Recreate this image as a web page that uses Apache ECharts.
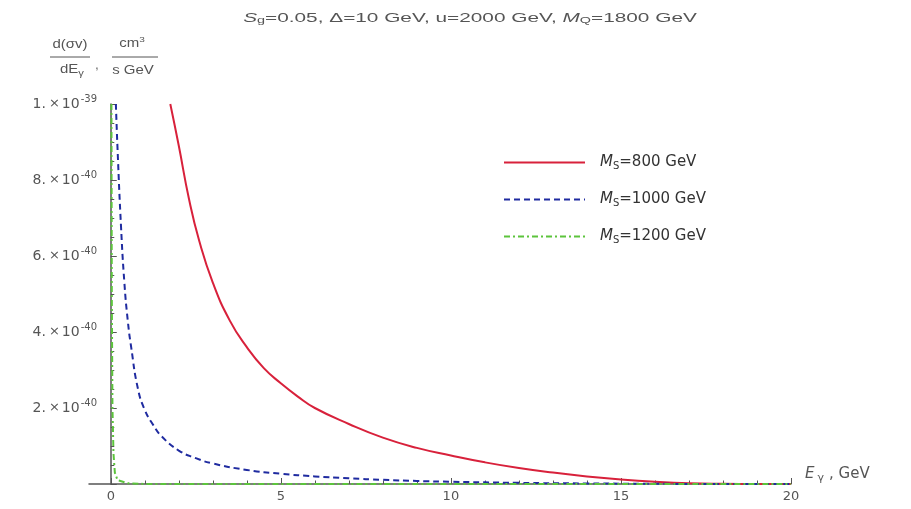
<!DOCTYPE html>
<html>
<head>
<meta charset="utf-8">
<script src="https://cdn.jsdelivr.net/npm/echarts@6/dist/echarts.min.js"></script>
<style>html,body{margin:0;padding:0;background:#fff;}#c{width:911px;height:509px;}</style>
</head>
<body>
<div id="c"></div>
<script>
// values of y are in units of 1e-40 cm^3/(s GeV)
const xRed = [1.75,2.0,2.3,2.6,3.0,3.5,4.0,4.5,5.0,5.5,6.0,7.0,8.0,9.0,10,11,12,13,14,15,16,17,18,19,20];
const yRed = [10.0,8.9,7.5,6.4,5.3,4.3,3.6,3.05,2.65,2.3,2.0,1.58,1.22,0.95,0.75,0.57,0.42,0.30,0.20,0.12,0.06,0.02,0.005,0,0];
const xBlue = [0.15,0.2,0.3,0.4,0.5,0.6,0.8,1.0,1.25,1.5,2.0,2.5,3.0,4.0,5.0,6.0,7,8,9,10,12,14,16,18,20];
const yBlue = [10,8.8,6.8,5.3,4.3,3.6,2.5,1.95,1.55,1.25,0.88,0.68,0.54,0.37,0.27,0.2,0.15,0.11,0.08,0.06,0.03,0.015,0.005,0,0];
const xGreen = [0.02,0.03,0.05,0.08,0.12,0.2,0.5,1,2,5,10,15,20];
const yGreen = [10,5,2,0.8,0.3,0.1,0.02,0,0,0,0,0,0];
const seriesNames = ['M_S=800 GeV','M_S=1000 GeV','M_S=1200 GeV'];
const xMajorTicks = [0,5,10,15,20];
const xMinorTicks = [1,2,3,4,6,7,8,9,11,12,13,14,16,17,18,19];
const yTickLabels = {2:['2.','-40'],4:['4.','-40'],6:['6.','-40'],8:['8.','-40'],10:['1.','-39']};

const pairs = (xs, ys) => xs.map((x, i) => [x, ys[i]]);
const txt = '#555';
const ff = 'Liberation Sans, Arial, sans-serif';
const fw = 'DejaVu Sans, sans-serif';

const chart = echarts.init(document.getElementById('c'));
chart.setOption({
  backgroundColor: '#fff',
  animation: false,
  textStyle: {fontFamily: ff},
  grid: {left: 89, right: 120, top: 104, bottom: 25, containLabel: false},
  legend: {
    orient: 'vertical', left: 498, top: 150,
    itemWidth: 81, itemHeight: 14, itemGap: 21,
    data: seriesNames,
    itemStyle: {color: 'rgba(0,0,0,0)', borderWidth: 0, opacity: 0},
    formatter: function (name) {
      const rest = name.split('_S')[1];
      return '{i|M}{sub|S}{n|' + rest + '}';
    },
    textStyle: {
      rich: {
        n: {fontSize: 15, color: '#333', fontFamily: fw},
        i: {fontSize: 15, color: '#333', fontStyle: 'italic', fontFamily: fw, padding: [0,0,0,10]},
        sub: {fontSize: 10, color: '#333', verticalAlign: 'bottom', padding: [7,0,0,0], fontFamily: fw}
      }
    }
  },
  xAxis: [{
    type: 'value', min: -0.64, max: 20, position: 'bottom',
    name: '{i|E}{sub|γ}{n|, GeV}', nameLocation: 'end', nameGap: 14,
    nameTextStyle: {
      verticalAlign: 'bottom',
      rich: {
        n: {fontSize: 15, color: txt, fontFamily: fw},
        i: {fontSize: 15, color: txt, fontStyle: 'italic', fontFamily: fw, padding: [0,3,0,0]},
        sub: {fontSize: 11, color: txt, verticalAlign: 'bottom', padding: [9,5,0,0], fontFamily: fw}
      }
    },
    axisLine: {show: true, lineStyle: {color: '#555', width: 1.5}},
    axisTick: {show: true, inside: true, length: 6, customValues: xMajorTicks, lineStyle: {color: '#555'}},
    axisLabel: {show: true, customValues: xMajorTicks, color: txt, fontSize: 13, fontFamily: fw, margin: 6},
    splitLine: {show: false}
  }, {
    type: 'value', min: -0.64, max: 20, position: 'bottom',
    axisLine: {show: false},
    axisTick: {show: true, inside: true, length: 3.5, customValues: xMinorTicks, lineStyle: {color: '#555'}},
    axisLabel: {show: false},
    splitLine: {show: false}
  }],
  yAxis: {
    type: 'value', min: 0, max: 10, interval: 2,
    axisLine: {show: true, onZero: true, lineStyle: {color: '#555', width: 1.5}},
    axisTick: {show: true, inside: true, length: 6, lineStyle: {color: '#555'}},
    minorTick: {show: true, splitNumber: 4, length: 3.5, lineStyle: {color: '#555'}},
    splitLine: {show: false},
    axisLabel: {
      color: txt, margin: -8,
      formatter: function (v) {
        const s = yTickLabels[Math.round(v)];
        if (!s) return '';
        return '{b|' + s[0] + '}{x|×}{b|10}{sup|' + s[1] + '}';
      },
      rich: {
        b: {fontSize: 14, color: txt, fontFamily: fw},
        x: {fontSize: 13, color: txt, fontFamily: fw, padding: [0,2,0,3]},
        sup: {fontSize: 10, color: txt, verticalAlign: 'top', padding: [0,0,9,1], fontFamily: fw}
      }
    }
  },
  series: [
    {name: seriesNames[0], type: 'line', data: pairs(xRed, yRed), showSymbol: false, symbol: 'none', smooth: true, clip: true,
     lineStyle: {color: '#d8213b', width: 2}, itemStyle: {color: '#d8213b'}},
    {name: seriesNames[1], type: 'line', data: pairs(xBlue, yBlue), showSymbol: false, symbol: 'none', smooth: true, clip: true,
     lineStyle: {color: '#1f2ba0', width: 2, type: [6, 4]}, itemStyle: {color: '#1f2ba0'}},
    {name: seriesNames[2], type: 'line', data: pairs(xGreen, yGreen), showSymbol: false, symbol: 'none', smooth: false, clip: true,
     lineStyle: {color: '#5cc43c', width: 2, type: [6, 3, 2, 3]}, itemStyle: {color: '#5cc43c'}}
  ],
  graphic: [
    {type: 'text', x: 470, y: 18, scaleX: 1.6,
     style: {
       text: '{i|S}{sub|g}{n|=0.05, Δ=10 GeV, u=2000 GeV, }{i|M}{sub|Q}{n|=1800 GeV}',
       align: 'center', verticalAlign: 'middle',
       rich: {
         n: {fontSize: 13, fill: txt, fontFamily: ff},
         i: {fontSize: 13, fill: txt, fontStyle: 'italic', fontFamily: ff},
         sub: {fontSize: 9, fill: txt, verticalAlign: 'bottom', padding: [6,0,0,0], fontFamily: ff}
       }
     }},
    {type: 'text', x: 70, y: 45, scaleX: 1.25, style: {text: 'd(σv)', fontSize: 12, fill: txt, fontFamily: ff, align: 'center', verticalAlign: 'middle'}},
    {type: 'line', shape: {x1: 50, y1: 57, x2: 90, y2: 57}, style: {stroke: txt, lineWidth: 1}},
    {type: 'text', x: 72, y: 70, scaleX: 1.25, style: {text: '{b|dE}{sub|γ}', align: 'center', verticalAlign: 'middle', rich: {b: {fontSize: 12, fill: txt, fontFamily: ff}, sub: {fontSize: 9, fill: txt, verticalAlign: 'bottom', padding: [8,0,0,0], fontFamily: ff}}}},
    {type: 'text', x: 97, y: 66, style: {text: ',', fontSize: 12, fill: txt, fontFamily: ff, align: 'center', verticalAlign: 'middle'}},
    {type: 'text', x: 132, y: 44, scaleX: 1.25, style: {text: '{b|cm}{sup|3}', align: 'center', verticalAlign: 'middle', rich: {b: {fontSize: 12, fill: txt, fontFamily: ff}, sup: {fontSize: 8, fill: txt, verticalAlign: 'top', padding: [0,0,8,0], fontFamily: ff}}}},
    {type: 'line', shape: {x1: 112, y1: 57, x2: 158, y2: 57}, style: {stroke: txt, lineWidth: 1}},
    {type: 'text', x: 133, y: 71, scaleX: 1.25, style: {text: 's GeV', fontSize: 12, fill: txt, fontFamily: ff, align: 'center', verticalAlign: 'middle'}}
  ]
});
</script>
</body>
</html>
